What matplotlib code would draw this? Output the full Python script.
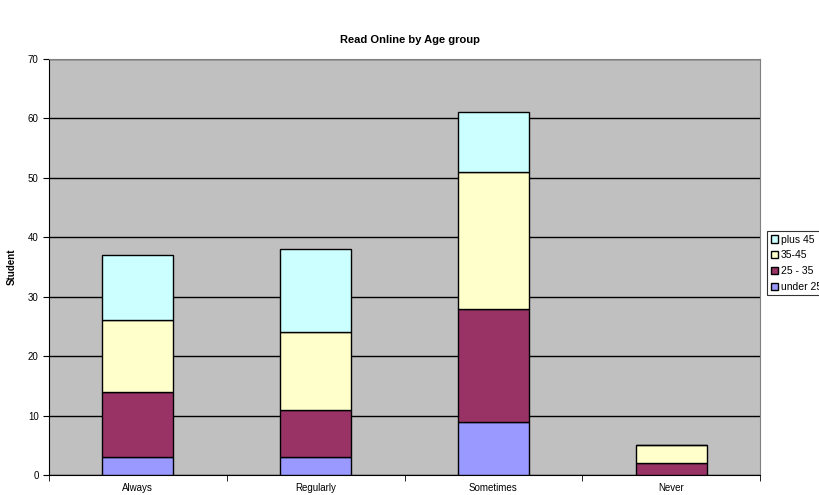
import numpy as np
import matplotlib.pyplot as plt

plt.rcParams['font.family'] = ['Liberation Sans', 'DejaVu Sans']

categories = ['Always', 'Regularly', 'Sometimes', 'Never']
series_names = ['under 25', '25 - 35', '35-45', 'plus 45']
under_25 = [3, 3, 9, 0]
age_25_35 = [11, 8, 19, 2]
age_35_45 = [12, 13, 23, 3]
plus_45 = [11, 14, 10, 0]
colors = ['#9999FF', '#993366', '#FFFFCC', '#CCFFFF']

fig = plt.figure(figsize=(8.19, 4.95), dpi=100)
ax = fig.add_axes([49 / 819, 20 / 495, 711 / 819, 416 / 495])
ax.set_facecolor('#C0C0C0')

x = np.arange(len(categories))
bottom = np.zeros(len(categories))
handles = []
for name, vals, c in zip(series_names, [under_25, age_25_35, age_35_45, plus_45], colors):
    vals = np.array(vals, dtype=float)
    b = ax.bar(x, vals, 0.4, bottom=bottom, color=c, edgecolor='black',
               linewidth=1.0, label=name, zorder=3)
    handles.append(b)
    bottom += vals

ax.set_xlim(-0.5, 3.5)
ax.set_ylim(0, 70)
ax.set_yticks(range(0, 71, 10))
ax.yaxis.grid(True, color='black', linewidth=1.0, zorder=1)
ax.set_axisbelow(True)
ax.set_xticks(x)
ax.set_xticklabels(categories, fontsize=7)
ax.tick_params(axis='x', length=0, pad=6)
ax.set_xticks(np.arange(-0.5, 4, 1), minor=True)
ax.tick_params(axis='x', which='minor', length=4, direction='out')
ax.tick_params(axis='y', labelsize=7, length=4, direction='out')
for s in ['top', 'right']:
    ax.spines[s].set_color('#808080')
ax.spines['left'].set_color('black')
ax.spines['bottom'].set_color('black')

ax.set_ylabel('Student', fontsize=7, fontweight='bold', labelpad=8)
fig.text(0.5, 1 - 40 / 495, 'Read Online by Age group', ha='center', va='center',
         fontsize=8, fontweight='bold')

leg = fig.legend(handles[::-1], series_names[::-1], loc='upper left',
                 bbox_to_anchor=(767 / 819, 1 - 231 / 495), fontsize=7.5,
                 frameon=True, fancybox=False, edgecolor='black',
                 handlelength=0.7, handleheight=0.7, handletextpad=0.3,
                 borderpad=0.35, labelspacing=0.55, borderaxespad=0)
leg.get_frame().set_linewidth(0.8)

fig.savefig('out.png', dpi=100)
